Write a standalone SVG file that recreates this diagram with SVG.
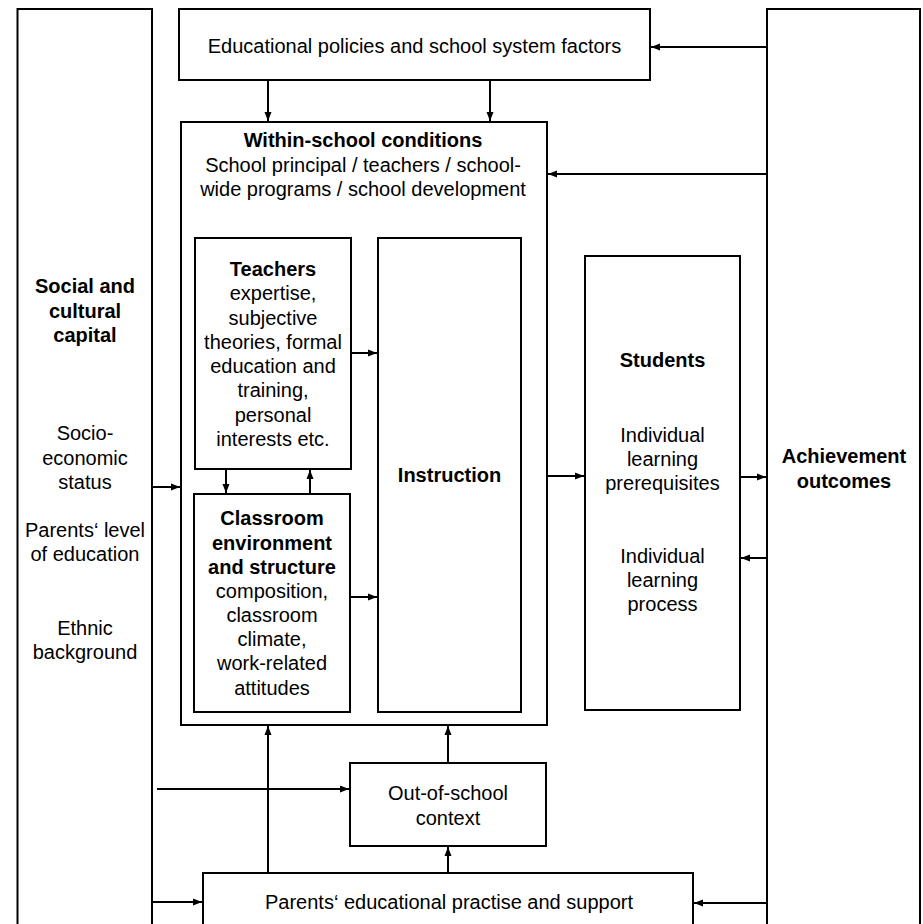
<svg xmlns="http://www.w3.org/2000/svg" width="923" height="924" viewBox="0 0 923 924">
<style>
.box{fill:#fff;stroke:#000;stroke-width:2}
.c{fill:none;stroke:#000;stroke-width:2;marker-end:url(#ah)}
text{font-family:"Liberation Sans",Arial,sans-serif;font-size:20px;fill:#000;text-anchor:middle}
.b{font-weight:bold}
</style>
<defs>
<marker id="ah" markerUnits="userSpaceOnUse" markerWidth="10" markerHeight="10" viewBox="0 0 10 10" refX="9" refY="5" orient="auto">
<path d="M0,1.5 L9,5 L0,8.5 z" fill="#000"/>
</marker>
</defs>
<rect width="923" height="924" fill="#fff"/>
<g id="social">
<rect class="box" x="17.5" y="9" width="134.5" height="930"/>
<text class="b" x="85" y="293">Social and</text>
<text class="b" x="85" y="318">cultural</text>
<text class="b" x="85" y="342">capital</text>
<text x="85" y="440">Socio-</text>
<text x="85" y="465">economic</text>
<text x="85" y="489">status</text>
<text x="85" y="537">Parents‘ level</text>
<text x="85" y="561">of education</text>
<text x="85" y="635">Ethnic</text>
<text x="85" y="659">background</text>
</g>
<g id="policies">
<rect class="box" x="179" y="9" width="471" height="71"/>
<text x="414.5" y="53">Educational policies and school system factors</text>
</g>
<g id="achievement">
<rect class="box" x="767" y="9" width="153" height="930"/>
<text class="b" x="844" y="463">Achievement</text>
<text class="b" x="844" y="488">outcomes</text>
</g>
<g id="withinschool">
<rect class="box" x="181" y="122" width="366" height="603"/>
<text class="b" x="363" y="147">Within-school conditions</text>
<text x="363" y="172">School principal / teachers / school-</text>
<text x="363" y="196">wide programs / school development</text>
</g>
<g id="teachers">
<rect class="box" x="195" y="238" width="156" height="231"/>
<text class="b" x="273" y="276">Teachers</text>
<text x="273" y="300">expertise,</text>
<text x="273" y="324.5">subjective</text>
<text x="273" y="349">theories, formal</text>
<text x="273" y="373">education and</text>
<text x="273" y="397">training,</text>
<text x="273" y="421.5">personal</text>
<text x="273" y="446">interests etc.</text>
</g>
<g id="classroom">
<rect class="box" x="194" y="494" width="156" height="218"/>
<text class="b" x="272" y="525">Classroom</text>
<text class="b" x="272" y="550">environment</text>
<text class="b" x="272" y="574">and structure</text>
<text x="272" y="598">composition,</text>
<text x="272" y="622">classroom</text>
<text x="272" y="646">climate,</text>
<text x="272" y="670">work-related</text>
<text x="272" y="695">attitudes</text>
</g>
<g id="instruction">
<rect class="box" x="378" y="238" width="143" height="474"/>
<text class="b" x="449.5" y="482">Instruction</text>
</g>
<g id="students">
<rect class="box" x="585" y="256" width="155" height="454"/>
<text class="b" x="662.5" y="367">Students</text>
<text x="662.5" y="442">Individual</text>
<text x="662.5" y="466">learning</text>
<text x="662.5" y="490">prerequisites</text>
<text x="662.5" y="563">Individual</text>
<text x="662.5" y="587">learning</text>
<text x="662.5" y="611">process</text>
</g>
<g id="outofschool">
<rect class="box" x="350" y="763" width="196" height="83"/>
<text x="448" y="800">Out-of-school</text>
<text x="448" y="825">context</text>
</g>
<g id="parents">
<rect class="box" x="203" y="873" width="490" height="80"/>
<text x="449" y="909">Parents‘ educational practise and support</text>
</g>
<g id="connectors">
<line class="c" x1="767" y1="47" x2="651" y2="47"/>
<line class="c" x1="268" y1="80" x2="268" y2="121"/>
<line class="c" x1="490" y1="80" x2="490" y2="121"/>
<line class="c" x1="767" y1="174" x2="548" y2="174"/>
<line class="c" x1="351" y1="353" x2="377" y2="353"/>
<line class="c" x1="350" y1="597" x2="377" y2="597"/>
<line class="c" x1="226" y1="469" x2="226" y2="493"/>
<line class="c" x1="310" y1="494" x2="310" y2="470"/>
<line class="c" x1="152" y1="487" x2="180" y2="487"/>
<line class="c" x1="547" y1="476" x2="584" y2="476"/>
<line class="c" x1="740" y1="477" x2="766" y2="477"/>
<line class="c" x1="767" y1="558" x2="741" y2="558"/>
<line class="c" x1="268" y1="873" x2="268" y2="726"/>
<line class="c" x1="448" y1="763" x2="448" y2="726"/>
<line class="c" x1="448" y1="873" x2="448" y2="847"/>
<line class="c" x1="157" y1="789" x2="349" y2="789"/>
<line class="c" x1="152" y1="902" x2="202" y2="902"/>
<line class="c" x1="767" y1="903" x2="694" y2="903"/>
</g>
</svg>
